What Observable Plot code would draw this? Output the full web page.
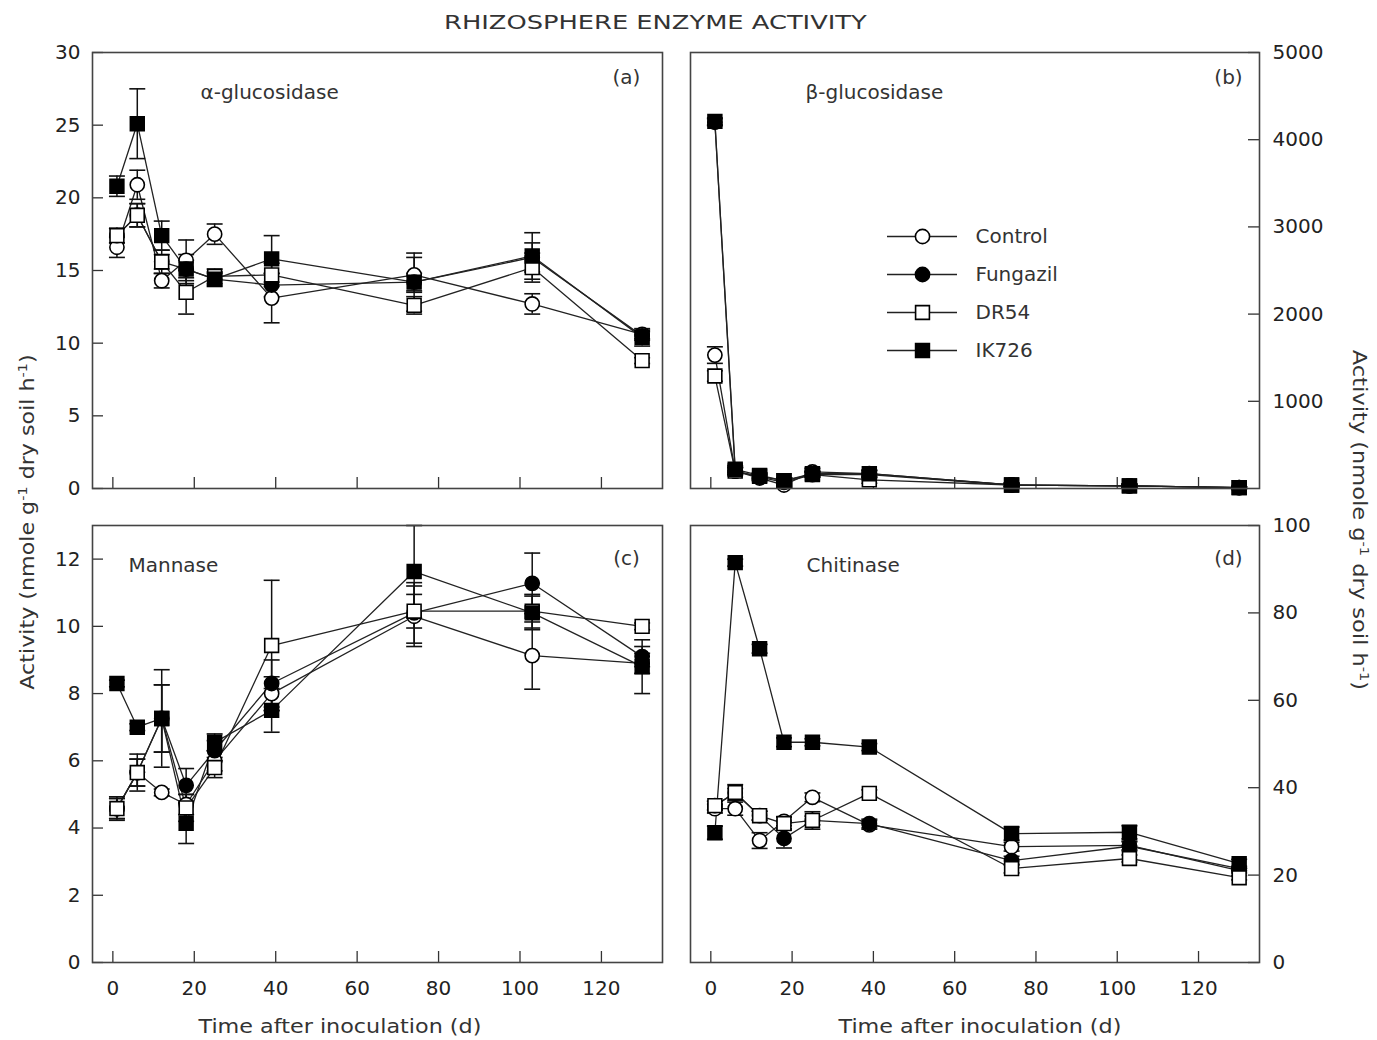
<!DOCTYPE html>
<html>
<head>
<meta charset="utf-8">
<script src="https://cdn.jsdelivr.net/npm/d3@7"></script>
<script src="https://cdn.jsdelivr.net/npm/@observablehq/plot@0.6"></script>
<style>
  html, body { margin: 0; padding: 0; background: #fff; }
  #wrap { position: relative; width: 1377px; height: 1040px; font-family: "DejaVu Sans", sans-serif; color: #222; overflow: hidden; }
  #wrap svg { position: absolute; left: 0; top: 0; }
  .lbl { position: absolute; white-space: nowrap; font-size: 20px; line-height: 1; color: #333; }
  .lbl sup { font-size: 13px; vertical-align: 0; position: relative; top: -7px; }
</style>
</head>
<body>
<div id="wrap"></div>
<script>
// ---------------- data ----------------
const days = [1, 6, 12, 18, 25, 39, 74, 103, 130];
const treatments = ["Control", "Fungazil", "DR54", "IK726"];
const xTicks = [0, 20, 40, 60, 80, 100, 120];

// (a) alpha-glucosidase
const alphaControl  = [16.6, 20.9, 14.3, 15.7, 17.5, 13.1, 14.7, 12.7, 10.6];
const alphaFungazil = [17.4, 18.8, 15.6, 15.1, 14.4, 14.0, 14.2, 15.9, 10.5];
const alphaDR54     = [17.4, 18.8, 15.6, 13.5, 14.6, 14.7, 12.6, 15.2, 8.8];
const alphaIK726    = [20.8, 25.1, 17.4, 15.1, 14.4, 15.8, 14.2, 16.0, 10.4];
const alphaControlSE  = [0.7, 1.0, 0.5, 1.4, 0.7, 1.7, 1.2, 0.7, 0.3];
const alphaFungazilSE = [0.5, 0.8, 0.5, 1.0, 0.4, 0.8, 0.6, 1.0, 0.3];
const alphaDR54SE     = [0.5, 0.8, 0.8, 1.5, 0.5, 0.8, 0.6, 1.0, 0.2];
const alphaIK726SE    = [0.7, 2.4, 1.0, 0.6, 0.5, 1.6, 2.0, 1.6, 0.6];
const alphaTicks = [0, 5, 10, 15, 20, 25, 30];

// (b) beta-glucosidase
const betaControl  = [1530, 200, 120, 40, 190, 170, 40, 30, 10];
const betaFungazil = [4200, 200, 130, 70, 160, 160, 40, 30, 10];
const betaDR54     = [1290, 200, 140, 90, 160, 100, 40, 30, 10];
const betaIK726    = [4210, 220, 150, 90, 170, 170, 40, 30, 10];
const betaControlSE  = [95, 40, 30, 30, 40, 40, 20, 20, 10];
const betaFungazilSE = [40, 40, 30, 30, 30, 40, 20, 20, 10];
const betaDR54SE     = [60, 40, 30, 30, 30, 40, 20, 20, 10];
const betaIK726SE    = [40, 40, 30, 30, 30, 40, 20, 20, 10];
const betaTicks = [1000, 2000, 3000, 4000, 5000];

// (c) mannase
const mannControl  = [4.58, 5.65, 5.06, 4.7, 6.0, 8.0, 10.3, 9.13, 8.9];
const mannFungazil = [4.58, 5.65, 7.26, 5.27, 6.3, 8.3, 10.4, 11.28, 9.1];
const mannDR54     = [4.58, 5.65, 7.26, 4.6, 5.8, 9.43, 10.45, 10.45, 10.0];
const mannIK726    = [8.3, 7.0, 7.26, 4.14, 6.55, 7.5, 11.63, 10.4, 8.8];
const mannControlSE  = [0.3, 0.4, 0.1, 0.3, 0.3, 0.5, 0.9, 1.0, 0.3];
const mannFungazilSE = [0.3, 0.4, 1.0, 0.5, 0.3, 0.7, 0.9, 0.9, 0.3];
const mannDR54SE     = [0.35, 0.55, 1.0, 0.4, 0.3, 1.94, 0.5, 0.5, 0.1];
const mannIK726SE    = [0.1, 0.1, 1.45, 0.6, 0.25, 0.65, 1.37, 0.5, 0.8];
const mannTicks = [0, 2, 4, 6, 8, 10, 12];

// (d) chitinase
const chitControl  = [35.2, 35.2, 27.9, 32.3, 37.8, 31.5, 26.5, 26.8, 21.0];
const chitFungazil = [35.9, 38.8, 33.6, 28.4, 32.5, 31.8, 23.3, 26.6, 21.5];
const chitDR54     = [35.9, 38.9, 33.6, 31.8, 32.5, 38.7, 21.5, 23.8, 19.4];
const chitIK726    = [29.7, 91.5, 71.8, 50.4, 50.4, 49.3, 29.5, 29.8, 22.6];
const chitControlSE  = [1.0, 1.5, 1.8, 1.0, 1.0, 1.0, 1.0, 1.0, 0.5];
const chitFungazilSE = [1.0, 1.0, 1.0, 2.2, 1.0, 1.0, 1.0, 1.0, 0.5];
const chitDR54SE     = [1.0, 1.8, 1.0, 1.5, 2.0, 0.8, 1.0, 0.8, 0.5];
const chitIK726SE    = [1.5, 0.8, 1.0, 1.0, 0.8, 0.8, 1.5, 1.5, 1.0];
const chitTicks = [0, 20, 40, 60, 80, 100];

// ---------------- helpers ----------------
function buildRows(values, errors) {
  const out = [];
  treatments.forEach((s, k) => {
    days.forEach((t, i) => out.push({series: s, t, v: values[k][i], lo: values[k][i] - errors[k][i], hi: values[k][i] + errors[k][i]}));
  });
  return out;
}

const symbolOf = {Control: "circle", Fungazil: "circle", DR54: "square", IK726: "square"};
const fillOf = {Control: "white", Fungazil: "black", DR54: "white", IK726: "black"};
const rOf = {Control: 7.1, Fungazil: 7.1, DR54: 7.8, IK726: 7.8};

const capSymbol = {
  draw(context, size) {
    const w = Math.sqrt(size);
    context.moveTo(-w, 0);
    context.lineTo(w, 0);
  }
};

const W = 1377, H = 1040;
const plotStyle = {fontFamily: "DejaVu Sans, sans-serif", fontSize: "20px", color: "#222", background: "transparent", overflow: "visible"};

function panel({frame, yDomain, yTicks, yLabels, side, xLabels, rows, name, nameDx, tag, tagDy}) {
  const [L, T, R, B] = frame;
  const fw = R - L, fh = B - T;
  const marks = [];
  // inward ticks
  if (side === "left") {
    marks.push(Plot.ruleY(yTicks, {y: d => d, insetRight: fw - 11, stroke: "#333", strokeWidth: 1.3}));
  } else {
    marks.push(Plot.ruleY(yTicks, {y: d => d, insetLeft: fw - 11, stroke: "#333", strokeWidth: 1.3}));
  }
  marks.push(Plot.ruleX(xTicks, {x: d => d, insetTop: fh - 11, stroke: "#333", strokeWidth: 1.3}));
  // axis labels
  marks.push(Plot.axisY({anchor: side, ticks: yLabels, tickFormat: d => String(d), tickSize: 0, tickPadding: side === "left" ? 12 : 13, label: null, fontSize: 20}));
  if (xLabels) marks.push(Plot.axisX({anchor: "bottom", ticks: xTicks, tickFormat: d => String(d), tickSize: 0, tickPadding: 18, label: null, fontSize: 20}));
  // series lines
  treatments.forEach(s => {
    marks.push(Plot.line(rows.filter(d => d.series === s), {x: "t", y: "v", stroke: "#222", strokeWidth: 1.3}));
  });
  // error bars
  treatments.forEach(s => {
    const r = rows.filter(d => d.series === s);
    marks.push(Plot.ruleX(r, {x: "t", y1: "lo", y2: "hi", stroke: "#111", strokeWidth: 1.5}));
    marks.push(Plot.dot(r, {x: "t", y: "lo", symbol: capSymbol, r: 4.5, stroke: "#111", strokeWidth: 1.6, fill: "none"}));
    marks.push(Plot.dot(r, {x: "t", y: "hi", symbol: capSymbol, r: 4.5, stroke: "#111", strokeWidth: 1.6, fill: "none"}));
  });
  // symbols
  treatments.forEach(s => {
    marks.push(Plot.dot(rows.filter(d => d.series === s), {x: "t", y: "v", symbol: symbolOf[s], r: rOf[s], fill: fillOf[s], stroke: "#000", strokeWidth: 1.6}));
  });
  // panel names
  marks.push(Plot.text([name], {frameAnchor: "top-left", text: d => d, dx: nameDx[0], dy: nameDx[1], textAnchor: "start", lineAnchor: "middle", fontSize: 20, fill: "#333"}));
  marks.push(Plot.text([tag], {frameAnchor: "top-right", text: d => d, dx: side === "left" ? -36 : -31, dy: tagDy, textAnchor: "middle", lineAnchor: "middle", fontSize: 20, fill: "#333"}));
  marks.push(Plot.frame({stroke: "#444", strokeWidth: 1.6}));
  return Plot.plot({
    width: W, height: H,
    marginLeft: L, marginTop: T, marginRight: W - R, marginBottom: H - B,
    x: {domain: [-5, 135], axis: null},
    y: {domain: yDomain, axis: null},
    style: plotStyle,
    marks
  });
}

const wrap = document.getElementById("wrap");

wrap.append(panel({
  frame: [92, 52, 662, 488], yDomain: [0, 30], yTicks: alphaTicks, yLabels: alphaTicks, side: "left", xLabels: false,
  rows: buildRows([alphaControl, alphaFungazil, alphaDR54, alphaIK726], [alphaControlSE, alphaFungazilSE, alphaDR54SE, alphaIK726SE]),
  name: "α-glucosidase", nameDx: [108, 40], tag: "(a)", tagDy: 25
}));
wrap.append(panel({
  frame: [690, 52, 1259, 488], yDomain: [0, 5000], yTicks: betaTicks, yLabels: betaTicks, side: "right", xLabels: false,
  rows: buildRows([betaControl, betaFungazil, betaDR54, betaIK726], [betaControlSE, betaFungazilSE, betaDR54SE, betaIK726SE]),
  name: "β-glucosidase", nameDx: [115, 40], tag: "(b)", tagDy: 25
}));
wrap.append(panel({
  frame: [92, 525, 662, 962], yDomain: [0, 13], yTicks: mannTicks, yLabels: mannTicks, side: "left", xLabels: true,
  rows: buildRows([mannControl, mannFungazil, mannDR54, mannIK726], [mannControlSE, mannFungazilSE, mannDR54SE, mannIK726SE]),
  name: "Mannase", nameDx: [36, 40], tag: "(c)", tagDy: 33
}));
wrap.append(panel({
  frame: [690, 525, 1259, 962], yDomain: [0, 100], yTicks: chitTicks, yLabels: chitTicks, side: "right", xLabels: true,
  rows: buildRows([chitControl, chitFungazil, chitDR54, chitIK726], [chitControlSE, chitFungazilSE, chitDR54SE, chitIK726SE]),
  name: "Chitinase", nameDx: [116, 40], tag: "(d)", tagDy: 33
}));

// legend (inside panel b)
const legend = Plot.plot({
  width: 200, height: 154, margin: 0, marginTop: 19, marginBottom: 19,
  x: {type: "identity", axis: null},
  y: {type: "point", domain: treatments, padding: 0, axis: null},
  style: plotStyle,
  marks: [
    Plot.ruleY(treatments, {y: d => d, x1: 0, x2: 70, stroke: "#222", strokeWidth: 1.3}),
    ...treatments.map(s => Plot.dot([s], {x: 35, y: d => d, symbol: symbolOf[s], r: rOf[s], fill: fillOf[s], stroke: "#000", strokeWidth: 1.6})),
    Plot.text(treatments, {x: 88, y: d => d, text: d => d, textAnchor: "start", fontSize: 20, fill: "#333"})
  ]
});
legend.style.left = "887px";
legend.style.top = "216px";
wrap.append(legend);

// titles
function addLabel(html, cx, cy, rot, targetWidth) {
  const d = document.createElement("div");
  d.className = "lbl";
  d.innerHTML = html;
  wrap.append(d);
  const w = d.offsetWidth, h = d.offsetHeight;
  d.style.left = (cx - w / 2) + "px";
  d.style.top = (cy - h / 2) + "px";
  const s = targetWidth ? targetWidth / w : 1;
  d.style.transform = `rotate(${rot}deg) scaleX(${s})`;
  return d;
}
addLabel("RHIZOSPHERE ENZYME ACTIVITY", 655, 22, 0, 423);
addLabel("Time after inoculation (d)", 339.5, 1026, 0, 283);
addLabel("Time after inoculation (d)", 979.5, 1026, 0, 283);
addLabel("Activity (nmole g<sup>-1</sup> dry soil h<sup>-1</sup>)", 27, 522, -90, 335);
addLabel("Activity (nmole g<sup>-1</sup> dry soil h<sup>-1</sup>)", 1360, 520, 90, 340);
</script>
</body>
</html>
